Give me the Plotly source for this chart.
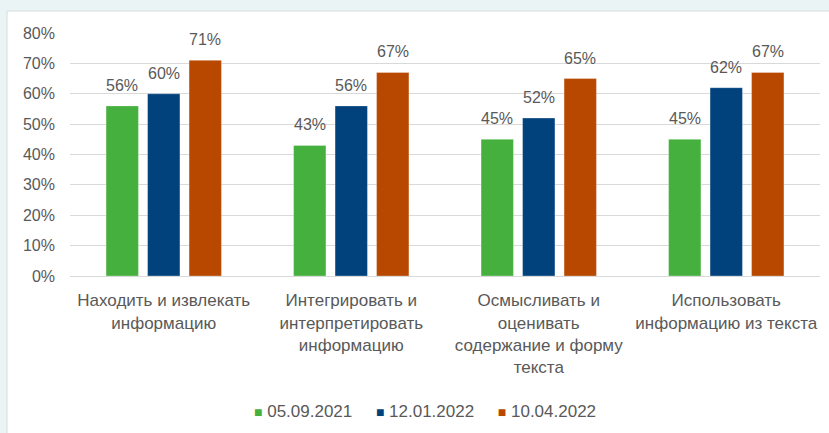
import plotly.graph_objects as go

# Reading-skill categories and results per test date
categories = ["Находить и извлекать информацию",
              "Интегрировать и интерпретировать информацию",
              "Осмысливать и оценивать содержание и форму текста",
              "Использовать информацию из текста"]
tick_labels = ["Находить и извлекать<br>информацию",
               "Интегрировать и<br>интерпретировать<br>информацию",
               "Осмысливать и<br>оценивать<br>содержание и форму<br>текста",
               "Использовать<br>информацию из текста"]
series_names = ["05.09.2021", "12.01.2022", "10.04.2022"]
values_2021_09 = [0.56, 0.43, 0.45, 0.45]
values_2022_01 = [0.60, 0.56, 0.52, 0.62]
values_2022_04 = [0.71, 0.67, 0.65, 0.67]
y_ticks = [0, 0.1, 0.2, 0.3, 0.4, 0.5, 0.6, 0.7, 0.8]

series_values = [values_2021_09, values_2022_01, values_2022_04]
colors = ["#46B03E", "#01427C", "#B84800"]

W, H = 829, 433
M = dict(l=70, r=9, t=33, b=157)
BARGAP, BARGROUPGAP = 0.336, 0.22
FONT = "Liberation Sans"
GRAY = "#595959"

fig = go.Figure()
for name, vals, col in zip(series_names, series_values, colors):
    fig.add_trace(go.Bar(
        x=categories, y=vals, name=name,
        marker=dict(color=col, line=dict(color="rgba(255,255,255,0.5)", width=0.6)),
        showlegend=False, hoverinfo="skip",
    ))

# value labels above each bar, shifted to the bar's slot in its group
plot_w = W - M["l"] - M["r"]
slot = plot_w / len(categories) * (1 - BARGAP) / len(series_names)
annotations = []
for i, vals in enumerate(series_values):
    for cat, v in zip(categories, vals):
        annotations.append(dict(
            x=cat, y=v, xref="x", yref="y", text=f"{v:.0%}",
            showarrow=False, yanchor="bottom", xanchor="center",
            xshift=(i - (len(series_names) - 1) / 2) * slot, yshift=10,
            font=dict(family=FONT, size=16, color=GRAY),
        ))

# legend row drawn as text with coloured squares
sep = "&nbsp;" * 5
legend_text = sep.join(
    f"<span style='color:{c};font-size:14px'>■</span> {n}"
    for n, c in zip(series_names, colors)
)
annotations.append(dict(
    x=0.473, y=-0.556, xref="paper", yref="paper", text=legend_text,
    showarrow=False, xanchor="center", yanchor="middle",
    font=dict(family=FONT, size=17, color=GRAY),
))

# white chart panel on the tinted page
ph = H - M["t"] - M["b"]
shapes = [dict(
    type="rect", xref="paper", yref="paper", layer="below",
    x0=(7 - M["l"]) / plot_w, x1=(W + 5 - M["l"]) / plot_w,
    y0=-(H + 5 - M["t"] - ph) / ph, y1=(H - M["b"] - 11) / ph,
    fillcolor="white", line=dict(color="#D6DCDC", width=1),
)]

fig.update_layout(
    width=W, height=H, margin=M,
    paper_bgcolor="#EAF4F4", plot_bgcolor="white",
    barmode="group", bargap=BARGAP, bargroupgap=BARGROUPGAP,
    font=dict(family=FONT, size=16, color=GRAY),
    annotations=annotations, shapes=shapes,
    xaxis=dict(
        tickvals=categories, ticktext=tick_labels,
        tickfont=dict(family=FONT, size=17, color=GRAY),
        showline=True, linecolor="#D9D9D9", linewidth=1,
        showgrid=False, ticks="", ticklabelstandoff=9,
    ),
    yaxis=dict(
        range=[0, 0.8], tickvals=y_ticks, tickformat=".0%",
        tickfont=dict(family=FONT, size=16, color=GRAY),
        showgrid=True, gridcolor="#D9D9D9", gridwidth=1,
        zeroline=False, showline=False, ticks="", ticklabelstandoff=14,
    ),
)

fig.write_html("out.html")
